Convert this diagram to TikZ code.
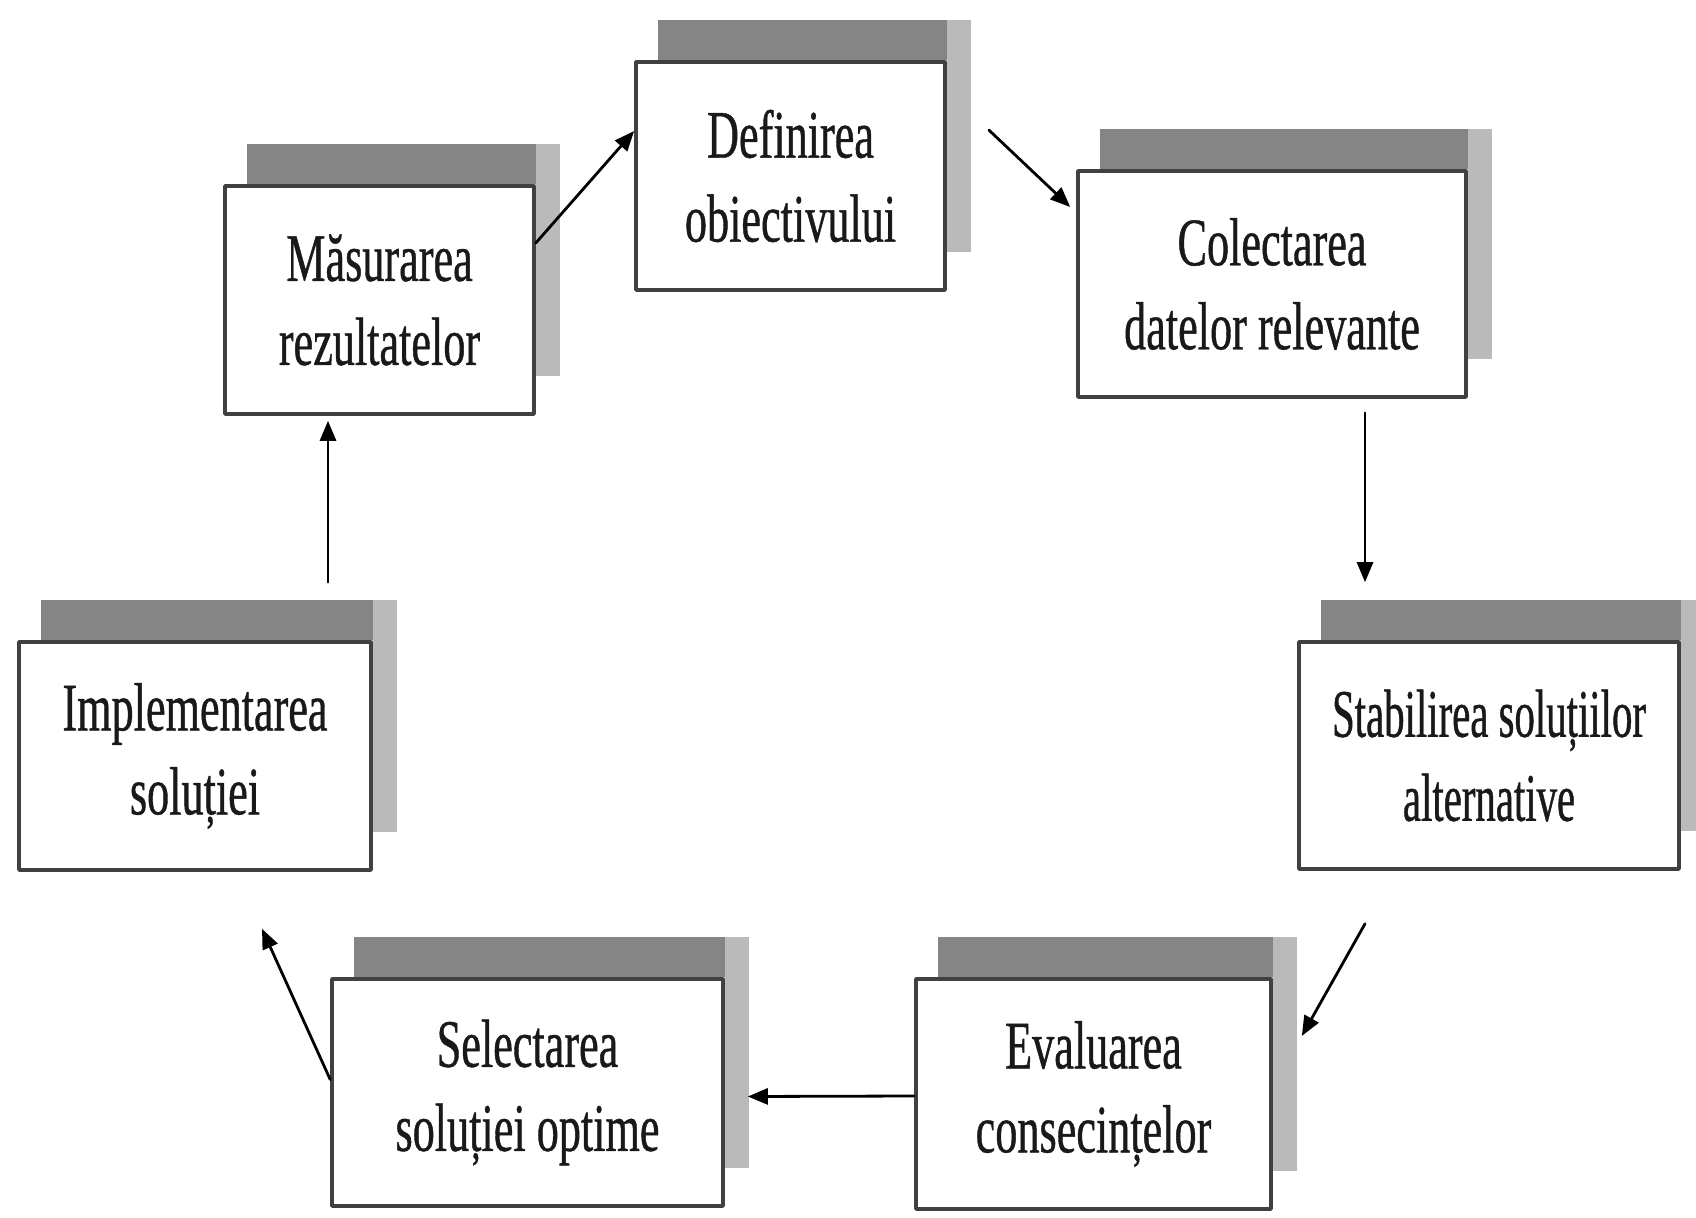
\documentclass[tikz,border=0pt]{standalone}
\usepackage{fontspec}
\setmainfont[FakeStretch=0.65,FakeBold=0.6]{Liberation Serif}
\newfontfamily\narrowserif[FakeStretch=0.6,FakeBold=0.6]{Liberation Serif}
\usetikzlibrary{calc,arrows.meta,backgrounds}
\tikzstyle{every node}=[font=\fontsize{34}{42}\selectfont]
\tikzstyle{every path}=[line cap=round,line join=round]
\tikzset{
	phase/.style={draw=black!75, line width=1.8pt, fill=white, text=black!90, align=center, inner sep=0pt},
	shadetop/.style={fill=black!48},
	shadeside/.style={fill=black!27},
	arr/.style={-{Triangle[length=10pt,width=8pt]}, line width=1.4pt}
}

\begin{document}
\begin{tikzpicture}[x=0.5pt,y=-0.5pt]
% Decision cycle, all positions in pixels of the page (y grows downwards)
	\newcommand\shdx{24} %horizontal offset of the shadow
	\newcommand\shdy{40} %vertical offset of the shadow
	\newcommand\boxshade[1]{%
		\fill[shadeside] ($(#1.north west)+(\shdx,-\shdy)$) rectangle ($(#1.south east)+(\shdx,-\shdy)$); % right strip
		\fill[shadetop] ($(#1.north west)+(\shdx,-\shdy)$) rectangle (#1.north east); % top band
	}
	\useasboundingbox (0,0) rectangle (1696,1218); %page frame
	%Top row
	\node[phase, minimum width=154.5pt, minimum height=114pt] (def) at (790.5,176) {Definirea\\obiectivului}; % def = objective
	\node[phase, minimum width=194pt, minimum height=113pt] (col) at (1272,284) {Colectarea\\datelor relevante}; % col = data
	\node[phase, minimum width=154.5pt, minimum height=114pt] (mas) at (379.5,300) {Măsurarea\\rezultatelor}; % mas = results
	%Middle row
	\node[phase, minimum width=190pt, minimum height=113.5pt, font=\narrowserif\fontsize{34}{42}\selectfont] (stab) at (1489,755.5) {Stabilirea soluțiilor\\alternative}; % stab = alternatives
	\node[phase, minimum width=176pt, minimum height=114pt] (impl) at (195,756) {Implementarea\\soluției}; % impl = implementation
	%Bottom row
	\node[phase, minimum width=195.5pt, minimum height=113.5pt] (sel) at (527.5,1092.5) {Selectarea\\soluției optime}; % sel = choice
	\node[phase, minimum width=177.5pt, minimum height=115pt] (eval) at (1093.5,1094) {Evaluarea\\consecințelor}; % eval = consequences
	%Shadows behind the boxes
	\begin{pgfonlayer}{background}
		\boxshade{def}
		\boxshade{col}
		\boxshade{mas}
		\boxshade{stab}
		\boxshade{impl}
		\boxshade{sel}
		\boxshade{eval}
	\end{pgfonlayer}
	%Cycle arrows
	\draw[arr] ($(mas.east)+(0,-57)$) -- ($(def.west)+(0,-45)$);
	\draw[arr] ($(def.east)+(42,-46)$) -- ($(col.west)+(-6,-77)$);
	\draw[arr] ($(col.south)+(93,14)$) -- ($(stab.north)+(-124,-58)$);
	\draw[arr] ($(stab.south)+(-124,53)$) -- ($(eval.east)+(29,-58)$);
	\draw[arr] ($(eval.west)+(0,2)$) -- ($(sel.east)+(23,4)$);
	\draw[arr] ($(sel.west)+(0,-13)$) -- ($(impl.south)+(67,57)$);
	\draw[arr] ($(impl.north)+(133,-58)$) -- ($(mas.south)+(-51.5,5)$);
\end{tikzpicture}
\end{document}
